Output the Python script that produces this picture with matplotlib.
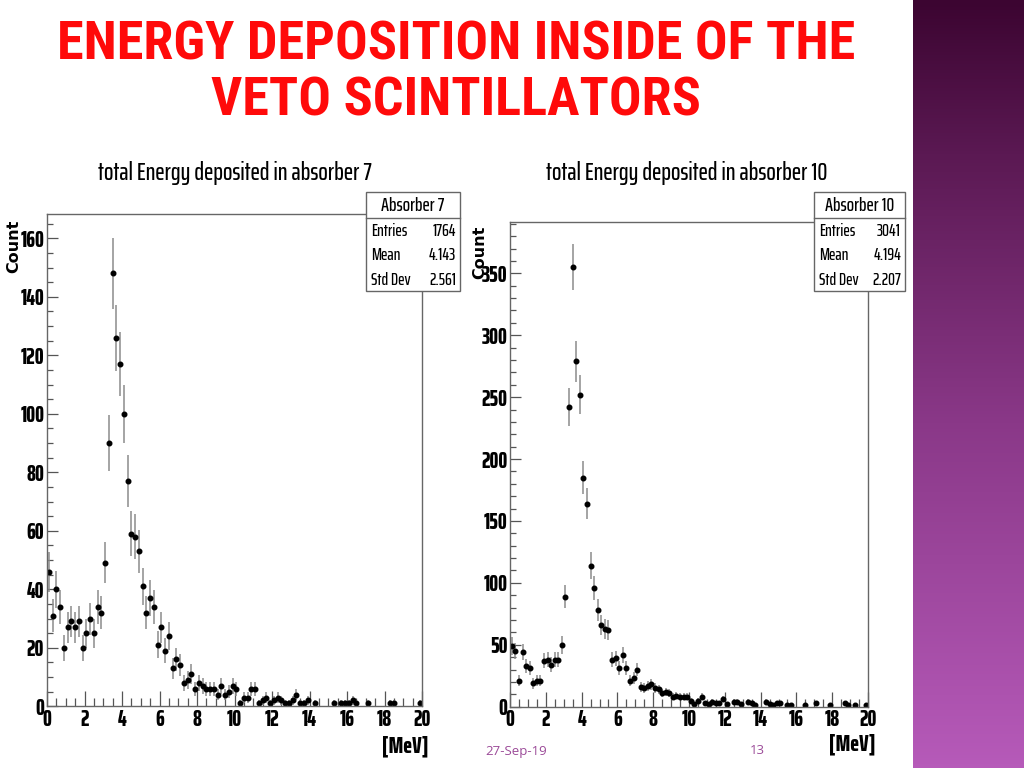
import matplotlib
matplotlib.use("Agg")
import matplotlib.pyplot as plt
import numpy as np
from matplotlib.colors import LinearSegmentedColormap
from matplotlib.lines import Line2D
from matplotlib.patches import Rectangle
from matplotlib.ticker import MultipleLocator

W, H = 1024, 768
ROOT_FONT = ["Saira ExtraCondensed", "Roboto Condensed", "Liberation Sans"]
TITLE_FONT = ["Roboto Condensed", "Saira Condensed", "Liberation Sans"]
plt.rcParams["font.family"] = ROOT_FONT

bin_edges = np.linspace(0.0, 20.0, 101)
bin_centers = 0.5 * (bin_edges[:-1] + bin_edges[1:])

counts_abs7 = [
    46, 31, 40, 34, 20, 27, 29, 27, 29, 20,
    25, 30, 25, 34, 32, 49, 90, 148, 126, 117,
    100, 77, 59, 58, 53, 41, 32, 37, 34, 21,
    27, 19, 24, 13, 16, 14, 8, 9, 11, 6,
    8, 7, 6, 6, 6, 4, 7, 4, 5, 7,
    6, 1, 3, 3, 6, 6, 1, 2, 3, 1,
    2, 3, 2, 1, 1, 2, 4, 1, 1, 2,
    0, 1, 0, 0, 0, 0, 1, 0, 1, 1,
    1, 2, 1, 0, 0, 1, 0, 0, 0, 0,
    0, 1, 1, 0, 0, 0, 0, 0, 0, 1,
]

counts_abs10 = [
    49, 45, 21, 44, 33, 31, 19, 21, 21, 37,
    38, 34, 38, 38, 50, 89, 242, 355, 279, 252,
    185, 164, 114, 96, 78, 66, 63, 62, 38, 39,
    31, 42, 31, 21, 23, 30, 16, 15, 17, 18,
    15, 14, 11, 12, 11, 8, 9, 8, 8, 8,
    5, 2, 5, 8, 3, 2, 4, 3, 3, 6,
    2, 0, 4, 4, 2, 0, 4, 3, 1, 0,
    0, 4, 2, 1, 3, 3, 0, 1, 1, 0,
    0, 0, 1, 0, 0, 3, 0, 0, 0, 1,
    0, 0, 0, 3, 1, 0, 1, 0, 0, 1,
]

stat_names = ["Entries", "Mean", "Std Dev"]
stats_abs7 = ["1764", "4.143", "2.561"]
stats_abs10 = ["3041", "4.194", "2.207"]


def fx(px):
    return px / W


def fy(py):
    return 1.0 - py / H


def draw_hist(ax, counts, ymax, major, minor):
    c = np.asarray(counts, dtype=float)
    keep = c > 0
    ax.errorbar(bin_centers[keep], c[keep], yerr=np.sqrt(c[keep]), fmt="o",
                ms=3.3, color="black", ecolor="#8c8c8c", elinewidth=1.1,
                capsize=0)
    ax.set_xlim(0, 20)
    ax.set_ylim(0, ymax)
    ax.xaxis.set_major_locator(MultipleLocator(2))
    ax.xaxis.set_minor_locator(MultipleLocator(0.5))
    ax.yaxis.set_major_locator(MultipleLocator(major))
    ax.yaxis.set_minor_locator(MultipleLocator(minor))
    ax.tick_params(axis="x", which="major", direction="in", length=11, width=0.9,
                   color="#555555", pad=2)
    ax.tick_params(axis="x", which="minor", direction="in", length=5.5, width=0.9,
                   color="#555555")
    ax.tick_params(axis="y", which="major", direction="in", length=8, width=0.9,
                   color="#555555", pad=2)
    ax.tick_params(axis="y", which="minor", direction="in", length=4.5, width=0.9,
                   color="#555555")
    for lbl in ax.get_xticklabels() + ax.get_yticklabels():
        lbl.set_fontsize(16)
        lbl.set_fontweight(800)
    for sp in ax.spines.values():
        sp.set_color("#666666")
        sp.set_linewidth(1.0)


def stats_box(x0, x1, title, values):
    fig.add_artist(Rectangle((fx(x0), fy(291)), (x1 - x0) / W, 99 / H,
                             transform=fig.transFigure, facecolor="white",
                             edgecolor="#666666", lw=1.0))
    fig.add_artist(Line2D([fx(x0), fx(x1)], [fy(218), fy(218)],
                          transform=fig.transFigure, color="#666666", lw=1.0))
    fig.text(fx((x0 + x1) / 2), fy(206), title, ha="center", va="center",
             fontsize=14, fontweight=500)
    for k, (name, val) in enumerate(zip(stat_names, values)):
        y = fy(231 + 24.5 * k)
        fig.text(fx(x0 + 5), y, name, ha="left", va="center", fontsize=12.5,
                 fontweight=500)
        fig.text(fx(x1 - 4), y, val, ha="right", va="center", fontsize=12.5,
                 fontweight=500)


fig = plt.figure(figsize=(W / 100, H / 100), dpi=100)
fig.patch.set_facecolor("white")

# purple side band of the slide
side = fig.add_axes([fx(913), 0, (W - 913) / W, 1])
side_cmap = LinearSegmentedColormap.from_list(
    "side", [(0.0, "#3c0531"), (0.2, "#5b1953"), (0.55, "#8a3888"), (1.0, "#b65ab9")])
side.imshow(np.linspace(0, 1, 256).reshape(-1, 1), aspect="auto", cmap=side_cmap,
            extent=[0, 1, 1, 0])
side.set_axis_off()

fig.text(fx(456), fy(45), "ENERGY DEPOSITION INSIDE OF THE", ha="center",
         va="center", color="#ff0a0a", fontsize=39, fontweight="bold",
         family=TITLE_FONT)
fig.text(fx(456), fy(101), "VETO SCINTILLATORS", ha="center", va="center",
         color="#ff0a0a", fontsize=39, fontweight="bold", family=TITLE_FONT)

ax1 = fig.add_axes([fx(47), fy(706.3), (422 - 47) / W, (706.3 - 214) / H])
draw_hist(ax1, counts_abs7, 168.3, 20, 5)

ax2 = fig.add_axes([fx(510), fy(706.7), (868 - 510) / W, (706.7 - 221.7) / H])
draw_hist(ax2, counts_abs10, 391.7, 50, 10)

fig.text(fx(235), fy(173), "total Energy deposited in absorber 7", ha="center",
         va="center", fontsize=18, fontweight=500)
fig.text(fx(687), fy(173), "total Energy deposited in absorber 10", ha="center",
         va="center", fontsize=18, fontweight=500)

fig.text(fx(14), fy(246), "Count", rotation=90, ha="center", va="center",
         fontsize=11.5, fontweight="bold", family="DejaVu Sans")
fig.text(fx(480), fy(252), "Count", rotation=90, ha="center", va="center",
         fontsize=11.5, fontweight="bold", family="DejaVu Sans")

fig.text(fx(405), fy(746), "[MeV]", ha="center", va="center", fontsize=17,
         fontweight=800)
fig.text(fx(852), fy(744), "[MeV]", ha="center", va="center", fontsize=17,
         fontweight=800)

stats_box(366, 460, "Absorber 7", stats_abs7)
stats_box(814, 905, "Absorber 10", stats_abs10)

fig.text(fx(485), fy(752), "27-Sep-19", ha="left", va="center", fontsize=9.5,
         color="#9b4a98", family="Open Sans")
fig.text(fx(757), fy(751), "13", ha="center", va="center", fontsize=9.5,
         color="#9b4a98", family="Open Sans")

fig.savefig("out.png", dpi=100)
